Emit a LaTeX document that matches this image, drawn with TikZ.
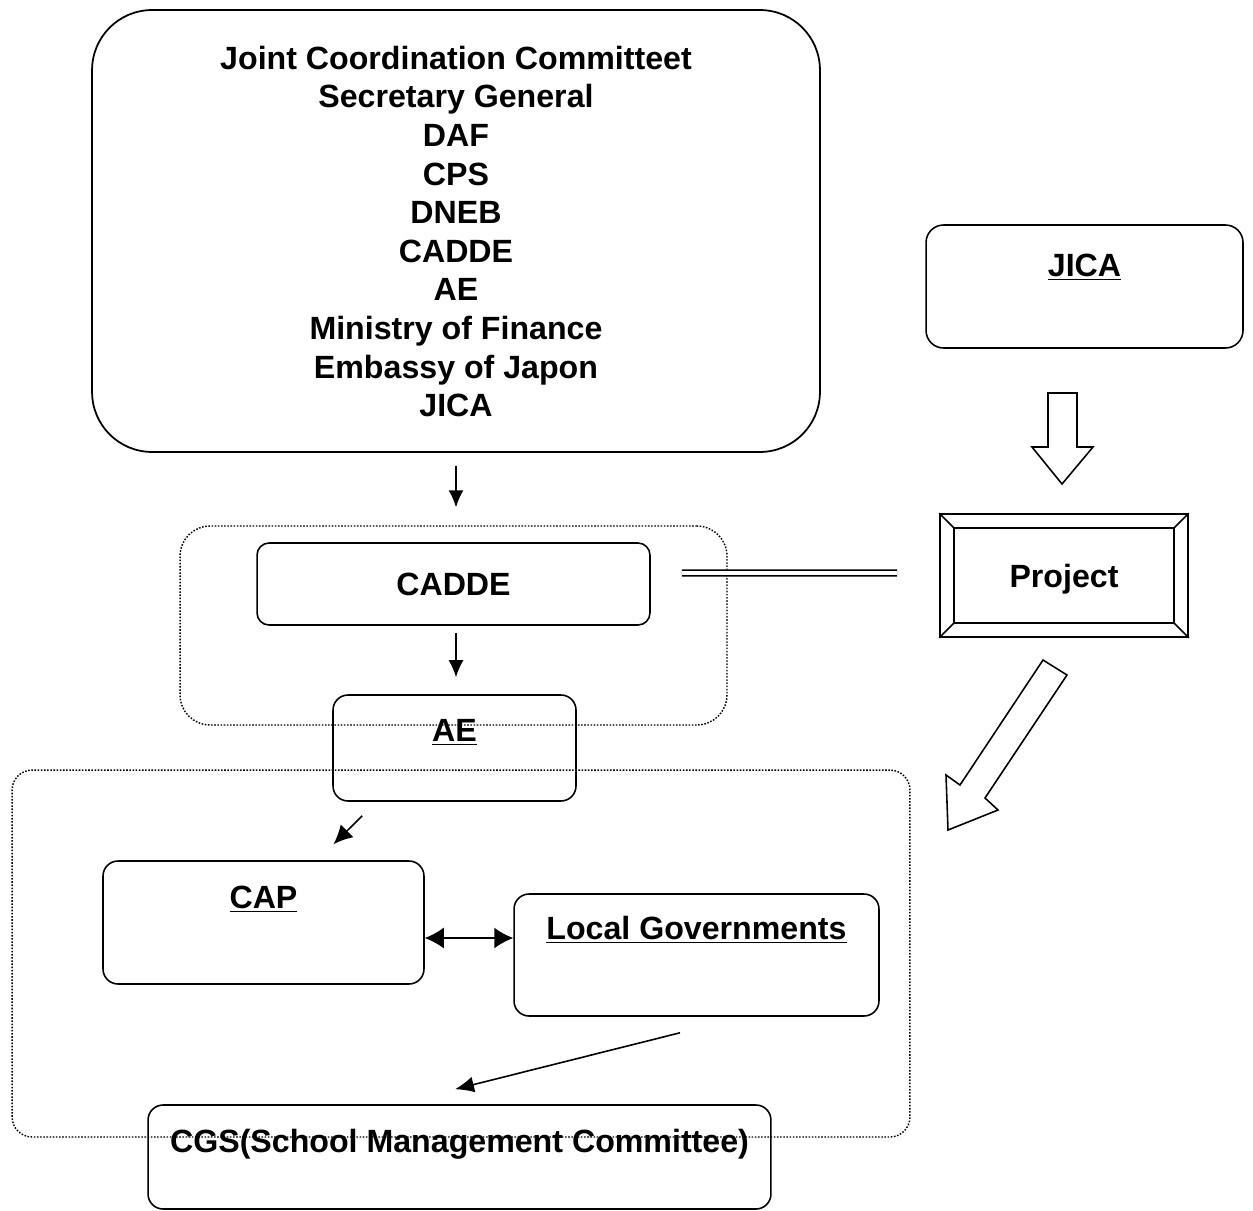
\documentclass[tikz,border=0pt]{standalone}
\usepackage{fontspec}
\setmainfont{Liberation Sans}
\usetikzlibrary{arrows.meta, positioning}

\begin{document}
\begin{tikzpicture}[
    x=0.02cm, y=-0.02cm,
    every node/.style={font=\fontsize{18.3}{22}\selectfont\bfseries},
    box/.style={rectangle, draw, line width=0.9pt, rounded corners=0.3cm, inner sep=0pt},
    group/.style={rectangle, draw, line width=0.8pt, dash pattern=on 0.9pt off 0.9pt, rounded corners=0.4cm, inner sep=0pt},
    arrow/.style={line width=0.9pt, -{Latex[length=0.34cm, width=0.3cm]}},
    twoway/.style={line width=0.9pt, {Latex[length=0.38cm, width=0.42cm]}-{Latex[length=0.38cm, width=0.42cm]}},
    bigarrow/.style={draw, line width=0.9pt, fill=white, line join=miter}
]
\useasboundingbox (0,0) rectangle (1253,1210);

% Coordination committee
\node [box, rounded corners=1.2cm, line width=1pt, minimum width=14.56cm, minimum height=8.84cm] (jcc) at (456,231) {};
\node [align=center, font=\fontsize{18.3}{21.97}\selectfont\bfseries] (members) at (456,231.5) {Joint Coordination Committeet\\Secretary General\\DAF\\CPS\\DNEB\\CADDE\\AE\\Ministry of Finance\\Embassy of Japon\\JICA};

% CADDE / AE group
\node [group, rounded corners=0.6cm, minimum width=10.94cm, minimum height=3.98cm] (cadgroup) at (453.5,625.5) {};
\node [box, rounded corners=0.24cm, minimum width=7.86cm, minimum height=1.64cm] (cadde) at (453.5,584) {CADDE};
\node [group, minimum width=17.96cm, minimum height=7.34cm] (localgroup) at (461,953.5) {};
\node [box, minimum width=4.86cm, minimum height=2.12cm] (ae) at (454.5,748) {};
\node at ([yshift=-0.76cm]ae.north) {\underline{AE}};

% local level
\node [box, minimum width=6.42cm, minimum height=2.46cm] (cap) at (263.5,922.5) {};
\node at ([yshift=-0.78cm]cap.north) {\underline{CAP}};
\node [box, minimum width=7.3cm, minimum height=2.44cm] (lgov) at (696.5,955) {};
\node at ([yshift=-0.74cm]lgov.north) {\underline{Local Governments}};
\node [box, minimum width=12.46cm, minimum height=2.08cm] (cgs) at (459.5,1157) {};
\node at ([yshift=-0.8cm]cgs.north) {CGS(School Management Committee)};

% JICA side
\node [box, rounded corners=0.35cm, minimum width=6.34cm, minimum height=2.46cm] (jica) at (1084.5,286.5) {};
\node at ([yshift=-0.86cm]jica.north) {\underline{JICA}};
\node [draw, line width=1pt, minimum width=4.96cm, minimum height=2.46cm, inner sep=0pt] (project) at (1064,575.5) {};
\node at ([yshift=-0.08cm]project.center) {Project};
\draw [line width=0.9pt] ([shift={(0.3cm,-0.3cm)}]project.north west) rectangle ([shift={(-0.3cm,0.3cm)}]project.south east);
\foreach \sx/\sy/\c in {1/-1/north west, -1/-1/north east, 1/1/south west, -1/1/south east}
    \draw [line width=0.9pt] (project.\c) -- ([shift={(\sx*0.3cm,\sy*0.3cm)}]project.\c);

% connectors
\draw [arrow] ([yshift=-0.26cm]jcc.south) -- ([xshift=0.05cm,yshift=0.36cm]cadgroup.north);
\draw [arrow] ([xshift=0.05cm,yshift=-0.14cm]cadde.south) -- ([xshift=0.03cm,yshift=0.34cm]ae.north);
\draw [arrow, -{Latex[length=0.38cm, width=0.36cm]}] ([xshift=0.6cm,yshift=-0.28cm]ae.south west) -- ([xshift=1.4cm,yshift=0.32cm]cap.north);
\draw [twoway] ([yshift=-0.31cm]cap.east) -- ([yshift=0.34cm]lgov.west);
\draw [arrow, -{Latex[length=0.38cm, width=0.32cm]}] ([xshift=-0.33cm,yshift=-0.32cm]lgov.south) -- ([xshift=-0.09cm,yshift=0.3cm]cgs.north);
\draw [line width=0.9pt, double, double distance=2.2pt] ([xshift=0.62cm,yshift=0.22cm]cadde.east) -- ([xshift=-0.84cm,yshift=0.05cm]project.west);

% block arrows
\draw [bigarrow] (1048,393) -- (1077,393) -- (1077,447) -- (1093,447) -- (1062,484) -- (1032,447) -- (1048,447) -- cycle;
\draw [bigarrow] (1043,660) -- (1067,675) -- (985,798) -- (998,810) -- (948,830) -- (946,775) -- (960,785) -- cycle;
\end{tikzpicture}
\end{document}
